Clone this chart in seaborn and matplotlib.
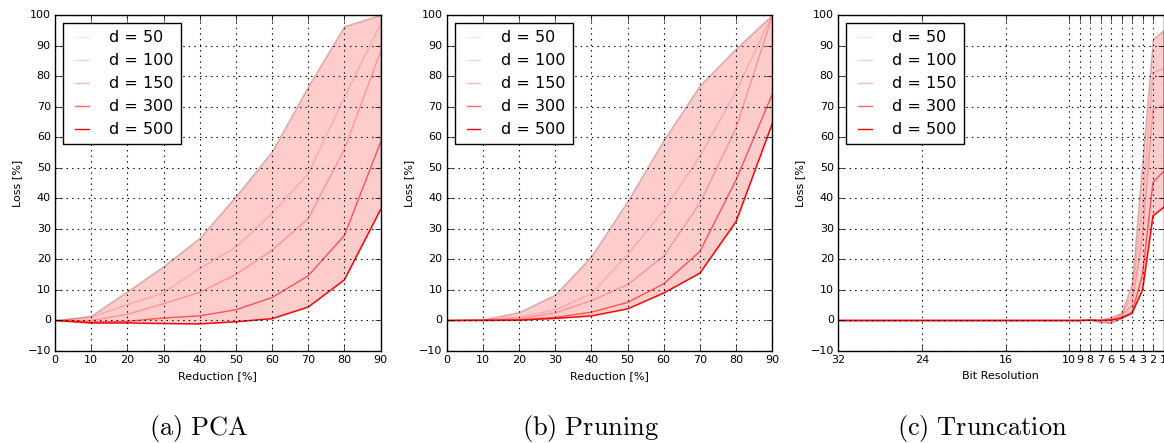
import numpy as np
import pandas as pd
import seaborn as sns
import matplotlib.pyplot as plt

# values
dims = [50, 100, 150, 300, 500]
line_alpha = [0.1, 0.18, 0.28, 0.6, 1.0]

reduction = [0, 10, 20, 30, 40, 50, 60, 70, 80, 90]
pca_loss = {
    50:  [0, 1.5, 9.5, 17.7, 27.0, 40.6, 55.3, 76.6, 96.3, 100.0],
    100: [0, 1.0, 5.2, 9.0, 17.0, 24.0, 35.0, 48.0, 73.0, 97.0],
    150: [0, 0.0, 2.0, 5.5, 9.2, 15.0, 23.0, 33.3, 56.0, 88.0],
    300: [0, -0.5, -0.3, 0.8, 1.5, 3.5, 7.5, 14.6, 27.8, 58.3],
    500: [0, -0.8, -0.8, -1.0, -1.1, -0.4, 0.6, 4.4, 13.3, 36.3],
}
pruning_loss = {
    50:  [0, 0.3, 2.7, 8.4, 21.0, 39.0, 59.0, 76.9, 89.0, 100.0],
    100: [0, 0.2, 1.0, 3.5, 8.7, 21.5, 36.0, 53.7, 75.0, 100.0],
    150: [0, 0.1, 0.5, 2.5, 6.5, 11.7, 21.0, 38.4, 63.0, 99.5],
    300: [0, 0.1, 0.2, 1.0, 2.7, 5.9, 12.0, 22.6, 46.0, 74.0],
    500: [0, 0.0, 0.1, 0.7, 1.5, 3.8, 9.0, 15.5, 32.4, 64.4],
}
bits = [32, 24, 16, 10, 9, 8, 7, 6, 5, 4, 3, 2, 1]
trunc_loss = {
    50:  [0, 0, 0, 0, 0, 0.2, 0.3, 1.0, 2.5, 12.0, 52.0, 92.0, 95.0],
    100: [0, 0, 0, 0, 0, 0.2, 0.0, 0.3, 2.0, 8.0, 38.0, 81.0, 82.5],
    150: [0, 0, 0, 0, 0, 0.1, -0.5, -0.8, 1.5, 5.0, 28.0, 69.2, 70.5],
    300: [0, 0, 0, 0, 0, 0.1, 0.0, 0.0, 1.0, 2.6, 15.0, 45.2, 48.8],
    500: [0, 0, 0, 0, 0, 0.1, 0.0, 0.2, 0.7, 2.4, 10.0, 34.3, 37.0],
}

plt.style.use('classic')
plt.rcParams['mathtext.fontset'] = 'cm'
plt.rcParams['font.family'] = ['DejaVu Sans']

fig = plt.figure(figsize=(11.64, 4.43), dpi=100)
fig.patch.set_facecolor('white')

W, H = 1164.0, 443.0
lefts = [55, 446.7, 838]
width = 325.5
panels = [
    (reduction, pca_loss, 'Reduction [%]', r'$\mathrm{(a)\ PCA}$'),
    (reduction, pruning_loss, 'Reduction [%]', r'$\mathrm{(b)\ Pruning}$'),
    (bits, trunc_loss, 'Bit Resolution', r'$\mathrm{(c)\ Truncation}$'),
]

for i, (xs, losses, xlabel, caption) in enumerate(panels):
    ax = fig.add_axes([lefts[i] / W, (H - 351) / H, width / W, 336 / H])

    lo = np.min([losses[d] for d in dims], axis=0)
    hi = np.max([losses[d] for d in dims], axis=0)
    ax.fill_between(xs, lo, hi, color='red', alpha=0.2, edgecolor='black',
                    linewidth=1.0)

    for d, a in zip(dims, line_alpha):
        sns.lineplot(x=xs, y=losses[d], color='red', alpha=a, linewidth=1.0,
                     label=f'd = {d}', ax=ax)

    ax.set_ylim(-10, 100)
    ax.set_yticks(range(-10, 101, 10))
    if i < 2:
        ax.set_xlim(0, 90)
        ax.set_xticks(range(0, 91, 10))
    else:
        ax.set_xlim(32, 1)
        ax.set_xticks(bits)
    ax.grid(True, linestyle=':', color='black', linewidth=0.8)
    ax.tick_params(labelsize=8, pad=3)
    ax.set_xlabel(xlabel, fontsize=8, labelpad=4)
    ax.set_ylabel('Loss [%]', fontsize=8, labelpad=4)

    leg = ax.legend(loc='upper left', fontsize=11.5, handlelength=1.45,
                    borderpad=0.45, labelspacing=0.5, handletextpad=1.0,
                    borderaxespad=0.5, fancybox=False)
    leg.get_frame().set_linewidth(1.0)

    cx = (lefts[i] + width / 2 - 19) / W
    fig.text(cx, (H - 428) / H, caption, fontsize=19, ha='center', va='center')

plt.savefig('out.png', dpi=100, facecolor='white')
